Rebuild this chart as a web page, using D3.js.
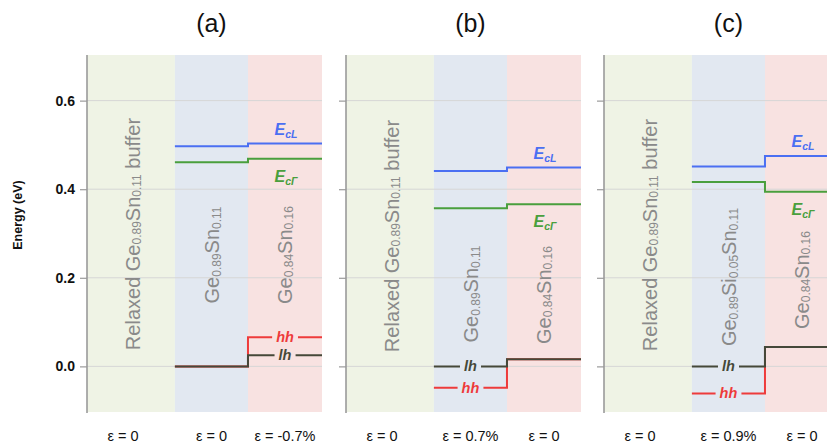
<!DOCTYPE html>
<html>
<head>
<meta charset="utf-8">
<script src="https://cdn.jsdelivr.net/npm/d3@7"></script>
<style>
  html, body { margin: 0; padding: 0; background: #fff; }
  svg { display: block; font-family: "Liberation Sans", Arial, sans-serif; }
</style>
</head>
<body>
<svg id="chart" width="827" height="448"></svg>
<script>
// Band-alignment diagrams for three strained GeSn heterostructures
const panelTitles = ["(a)", "(b)", "(c)"];
const strainLabels = [
  ["ε = 0", "ε = 0", "ε = -0.7%"],
  ["ε = 0", "ε = 0.7%", "ε = 0"],
  ["ε = 0", "ε = 0.9%", "ε = 0"]
];
// layer names: [main, subscript, main, subscript, ...]
const bufferLayer = [["Relaxed Ge", "0.89", "Sn", "0.11", " buffer"]];
const middleLayers = [
  ["Ge", "0.89", "Sn", "0.11"],
  ["Ge", "0.89", "Sn", "0.11"],
  ["Ge", "0.89", "Si", "0.05", "Sn", "0.11"]
];
const topLayers = [
  ["Ge", "0.84", "Sn", "0.16"],
  ["Ge", "0.84", "Sn", "0.16"],
  ["Ge", "0.84", "Sn", "0.16"]
];
// band edges (eV): [middle layer, top layer]
const ecL  = [[0.497, 0.503], [0.441, 0.449], [0.451, 0.475]];
const ecG  = [[0.461, 0.469], [0.357, 0.366], [0.416, 0.394]];
const hh   = [[0.000, 0.066], [-0.048, 0.016], [-0.061, 0.044]];
const lh   = [[0.000, 0.025], [0.000, 0.016], [0.000, 0.044]];
const yTicks = [0.0, 0.2, 0.4, 0.6];
const yDomain = [-0.103, 0.703];

const svg = d3.select("#chart");
const panelLeft = [87, 346, 604];
const panelWidth = 235;
const plotTop = 55, plotBottom = 412;
const regionFrac = [0, 0.374, 0.685, 1];
const bg = ["#eff3e5", "#e2e8f1", "#f8e2e1"];
const colors = { ecL: "#4b6ff2", ecG: "#4a9f3d", hh: "#ee3b3b", lh: "#454839" };

const y = d3.scaleLinear().domain(yDomain).range([plotBottom, plotTop]);

// y-axis title
svg.append("text")
  .attr("transform", "translate(22,215) rotate(-90)")
  .attr("text-anchor", "middle")
  .attr("font-size", 12.5).attr("font-weight", "bold").attr("fill", "#111")
  .text("Energy (eV)");

function layerText(g, parts, x, yc, size) {
  const t = g.append("text")
    .attr("transform", `translate(${x},${yc}) rotate(-90)`)
    .attr("text-anchor", "middle")
    .attr("dominant-baseline", "central")
    .attr("fill", "#8a8a8a")
    .attr("font-size", size);
  const isSub = (parts.length === 5) ? [false, true, false, true, false]
    : parts.map((_, i) => i % 2 === 1);
  parts.forEach((p, i) => {
    const ts = t.append("tspan").text(p);
    if (isSub[i]) ts.attr("font-size", size * 0.6).attr("dy", "0.35em");
    else if (i > 0 && isSub[i - 1]) ts.attr("dy", "-0.21em");
  });
}

function bandLabel(g, sub, x, yb, color) {
  const t = g.append("text")
    .attr("x", x).attr("y", yb)
    .attr("text-anchor", "middle")
    .attr("fill", color)
    .attr("font-weight", "bold").attr("font-style", "italic")
    .attr("font-size", 16);
  t.append("tspan").text("E");
  t.append("tspan").text(sub).attr("font-size", 10.5).attr("dy", "0.3em");
}

panelTitles.forEach((title, p) => {
  const x0 = panelLeft[p];
  const x = d3.scaleLinear().domain([0, 1]).range([x0, x0 + panelWidth]);
  const g = svg.append("g");
  const bx = regionFrac.map(f => x(f));

  // layer backgrounds
  for (let r = 0; r < 3; r++) {
    g.append("rect")
      .attr("x", bx[r]).attr("y", plotTop)
      .attr("width", bx[r + 1] - bx[r]).attr("height", plotBottom - plotTop)
      .attr("fill", bg[r]);
  }

  // gridlines
  g.selectAll(".grid").data(yTicks).join("line")
    .attr("x1", x0).attr("x2", x0 + panelWidth)
    .attr("y1", d => y(d)).attr("y2", d => y(d))
    .attr("stroke", "#d6d6d6").attr("stroke-width", 1);

  // axis
  const axis = d3.axisLeft(y).tickValues(yTicks).tickSize(7).tickPadding(5)
    .tickFormat(p === 0 ? d3.format(".1f") : () => "");
  const ag = g.append("g").attr("transform", `translate(${x0},0)`).call(axis);
  ag.select(".domain").attr("stroke", "#9a9a9a").attr("stroke-width", 1.6)
    .attr("d", `M0,${plotTop}V${plotBottom + 1}`);
  ag.selectAll(".tick line").attr("stroke", "#9a9a9a").attr("stroke-width", 1.2);
  ag.selectAll(".tick text").attr("font-size", 14).attr("font-weight", "bold")
    .attr("fill", "#111").attr("font-family", "Liberation Sans, Arial, sans-serif");

  // layer names
  const cx = [0, 1, 2].map(r => (bx[r] + bx[r + 1]) / 2);
  const labelCy = [[234, 255, 255], [236, 294, 295], [235, 277, 280]][p];
  layerText(g, bufferLayer[0], cx[0] + 2, labelCy[0], 20);
  layerText(g, middleLayers[p], cx[1] + 1, labelCy[1], 20);
  layerText(g, topLayers[p], cx[2], labelCy[2], 20);

  // band edges as steps across the heterointerface
  const line = d3.line().x(d => d[0]).y(d => y(d[1])).curve(d3.curveStepAfter);
  const steps = v => [[bx[1], v[0]], [bx[2], v[1]], [bx[3], v[1]]];
  [["hh", hh], ["lh", lh], ["ecG", ecG], ["ecL", ecL]].forEach(([k, arr]) => {
    g.append("path").attr("d", line(steps(arr[p])))
      .attr("fill", "none").attr("stroke", colors[k]).attr("stroke-width", 2);
  });

  // conduction band labels in the top layer
  bandLabel(g, "cL", cx[2] + 1, y(ecL[p][1]) - 9, colors.ecL);
  bandLabel(g, "cΓ", cx[2] + 1, y(ecG[p][1]) + 23, colors.ecG);

  // valence band labels, set into a gap in the line
  const vr = p === 0 ? 2 : 1;
  const vi = p === 0 ? 1 : 0;
  [["hh", hh], ["lh", lh]].forEach(([k, arr]) => {
    const lg = g.append("g");
    const t = lg.append("text")
      .attr("x", cx[vr]).attr("y", y(arr[p][vi]))
      .attr("text-anchor", "middle").attr("dominant-baseline", "central")
      .attr("fill", colors[k]).attr("font-weight", "bold").attr("font-style", "italic")
      .attr("font-size", 14.5).text(k);
    const bb = t.node().getBBox();
    lg.insert("rect", "text")
      .attr("x", bb.x - 4).attr("y", y(arr[p][vi]) - 3)
      .attr("width", bb.width + 8).attr("height", 6)
      .attr("fill", bg[vr]);
  });

  // panel title and strain labels
  svg.append("text")
    .attr("x", cx[1]).attr("y", 32)
    .attr("text-anchor", "middle").attr("font-size", 25).attr("fill", "#111")
    .text(title);
  strainLabels[p].forEach((s, r) => {
    svg.append("text")
      .attr("x", cx[r] + (r === 0 ? -8 : 0)).attr("y", 441)
      .attr("text-anchor", "middle").attr("font-size", 14.5).attr("fill", "#111")
      .text(s);
  });
});
</script>
</body>
</html>
